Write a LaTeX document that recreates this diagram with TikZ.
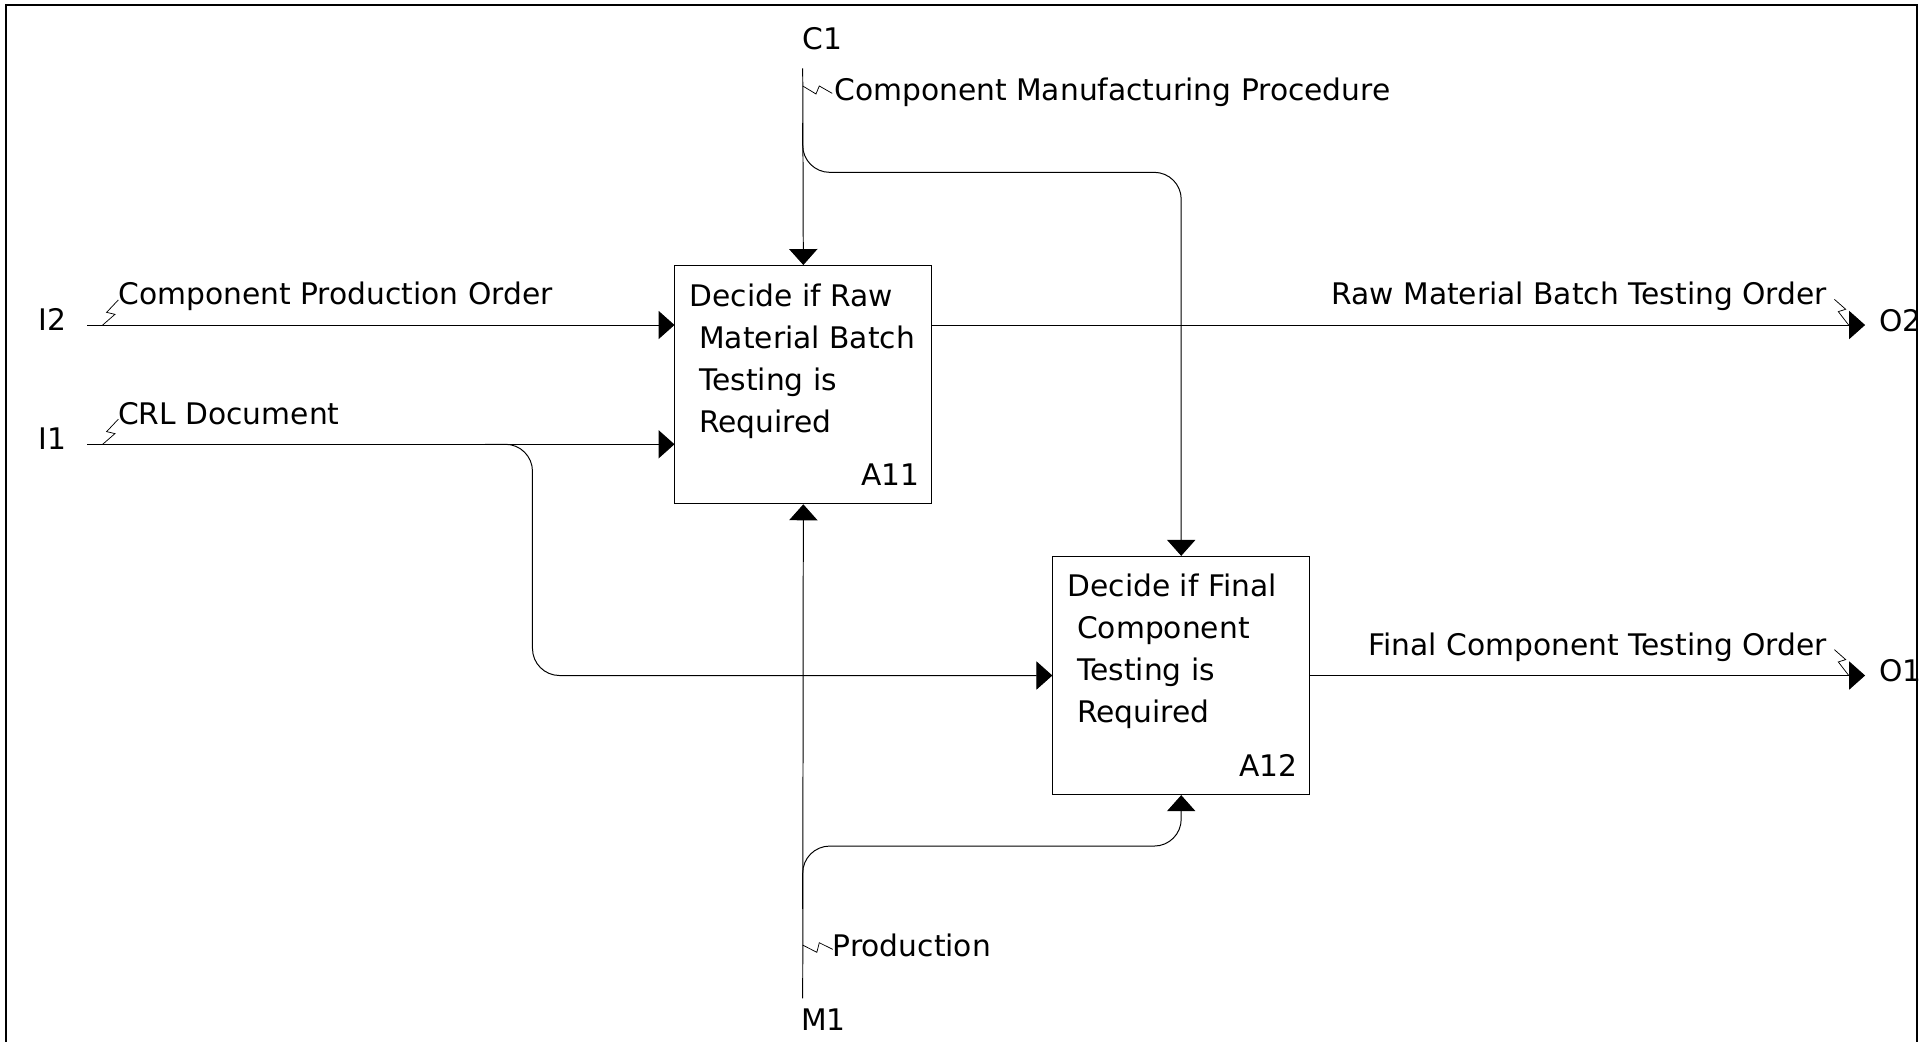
\documentclass[tikz,border=0pt]{standalone}
\usepackage{fontspec}
\setmainfont{DejaVu Sans}
\usetikzlibrary{arrows.meta,calc}
\begin{document}
\begin{tikzpicture}[x=1pt,y=-1pt,
  every node/.style={inner sep=0pt, font=\fontsize{24.2pt}{28pt}\selectfont},
  procbox/.style={draw, line width=0.8pt, minimum width=209pt, minimum height=194pt},
  flow/.style={draw, line width=0.8pt, -{Triangle[length=13pt,width=23pt]}},
  branch/.style={flow, rounded corners=22pt},
  squig/.style={draw, line width=0.6pt},
  lbl/.style={anchor=base west},
  lble/.style={anchor=base east}]

\useasboundingbox (0,0) rectangle (1568,848);
% outer frame (its lower edge runs off the page)
\draw[line width=1.6pt] (5,4) rectangle (1561,870);

% activities
\node[procbox] (a11) at (654,313.15) {};
\node[procbox] (a12) at (961.65,549.95) {};

\node[lbl] (a11t1) at ($(a11.north west)+(12.2,33.4)$) {Decide if Raw};
\node[lbl] (a11t2) at ($(a11.north west)+(20,67.6)$) {Material Batch};
\node[lbl] (a11t3) at ($(a11.north west)+(20,101.8)$) {Testing is};
\node[lbl] (a11t4) at ($(a11.north west)+(20,136)$) {Required};
\node[lble] (a11n) at ($(a11.south east)+(-10,-15.5)$) {A11};

\node[lbl] (a12t1) at ($(a12.north west)+(12.2,33.4)$) {Decide if Final};
\node[lbl] (a12t2) at ($(a12.north west)+(20,67.6)$) {Component};
\node[lbl] (a12t3) at ($(a12.north west)+(20,101.8)$) {Testing is};
\node[lbl] (a12t4) at ($(a12.north west)+(20,136)$) {Required};
\node[lble] (a12n) at ($(a12.south east)+(-10,-15.5)$) {A12};

% boundary arrow ends
\coordinate (i2s) at (70.9,264.6);
\coordinate (i1s) at (70.9,361.7);
\coordinate (c1s) at (653.5,55.6);
\coordinate (m1s) at (653.5,812.8);
\coordinate (o2e) at (1518.4,264.6);
\coordinate (o1e) at (1518.4,549.95);

% boundary labels
\node[lbl] (i2) at (31,268.7) {I2};
\node[lbl] (i1) at (31,365.8) {I1};
\node[lbl] (c1) at (653,40.2) {C1};
\node[lbl] (m1) at (652,838.6) {M1};
\node[lbl] (o2) at (1529.6,270) {O2};
\node[lbl] (o1) at (1529.6,555) {O1};

% arrow labels
\node[lbl] (lcpo) at (96.3,248.3) {Component Production Order};
\node[lbl] (lcrl) at (96,345.2) {CRL Document};
\node[lbl] (lcmp) at (679,81.5) {Component Manufacturing Procedure};
\node[lbl] (lprod) at (677.8,778.3) {Production};
\node[lble] (lraw) at (1487.5,247.8) {Raw Material Batch Testing Order};
\node[lble] (lfin) at (1487.5,533.3) {Final Component Testing Order};

% inputs
\draw[flow] (i2s) -- (a11.west |- i2s);
\draw[flow] (i1s) -- (a11.west |- i1s);
\coordinate (i1j) at (395,361.7);
\coordinate (i1d) at (433.5,361.7);
\draw[branch] (i1j) -- (i1d) -- (i1d |- a12.west) -- (a12.west);

% control
\draw[flow] (c1s) -- (a11.north);
\coordinate (c1j) at (653.5,100);
\coordinate (c1k) at (653.5,140.3);
\draw[branch] (c1j) -- (c1k) -- (c1k -| a12.north) -- (a12.north);

% mechanism
\draw[flow] (m1s) -- (a11.south);
\coordinate (m1j) at (653.5,740);
\coordinate (m1k) at (653.5,688.8);
\draw[branch] (m1j) -- (m1k) -- (m1k -| a12.south) -- (a12.south);

% outputs
\draw[flow] (a11.east |- o2e) -- (o2e);
\draw[flow] (a12.east) -- (o1e);

% label leaders
\coordinate (qi2) at (83.6,264.6);
\coordinate (qi1) at (83.6,361.7);
\coordinate (qc1) at (653.5,70);
\coordinate (qm1) at (653.5,769.4);
\coordinate (qo2) at (1493.4,243.7);
\coordinate (qo1) at (1493.4,528.9);
\draw[squig] (qi2) -- ++(10,-8.7) -- ++(-6.8,-1.6) -- ++(9.5,-10.1);
\draw[squig] (qi1) -- ++(10,-8.7) -- ++(-6.8,-1.6) -- ++(9.5,-10.1);
\draw[squig] (qc1) -- ++(10.8,6.5) -- ++(2.7,-6.5) -- ++(10.5,6);
\draw[squig] (qm1) -- ++(11.5,5.9) -- ++(2,-7.8) -- ++(11,5.4);
\draw[squig] (qo2) -- ++(9.2,8.1) -- ++(-6,1.9) -- ++(8.4,10.9);
\draw[squig] (qo1) -- ++(9.2,8.1) -- ++(-6,1.9) -- ++(8.4,10.9);
\end{tikzpicture}
\end{document}
